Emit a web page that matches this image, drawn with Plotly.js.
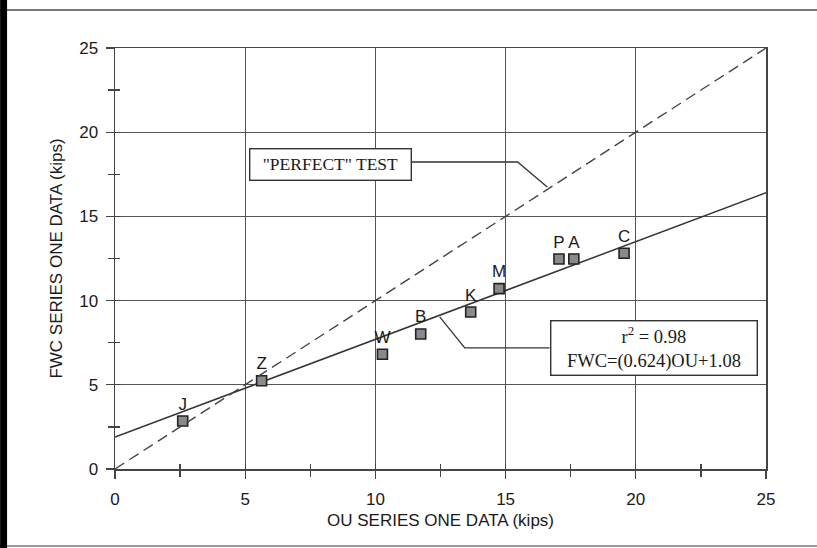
<!DOCTYPE html>
<html>
<head>
<meta charset="utf-8">
<script src="https://cdn.plot.ly/plotly-3.0.1.min.js"></script>
<style>html,body{margin:0;padding:0;background:#fff;}#chart{width:817px;height:548px;}</style>
</head>
<body>
<div id="chart"></div>
<script>
// Specimen labels and measured capacities (kips)
const specimens = ["J", "Z", "W", "B", "K", "M", "P", "A", "C"];
const ouData = [2.6, 5.63, 10.27, 11.74, 13.66, 14.75, 17.05, 17.62, 19.55];
const fwcData = [2.85, 5.24, 6.81, 8.02, 9.32, 10.71, 12.47, 12.47, 12.81];
// Regression line as drawn, and the "perfect" 1:1 line
const fitX = [0, 25];
const fitY = [1.9, 16.4];
const perfectX = [0, 25];
const perfectY = [0, 25];
const xTickVals = [0, 5, 10, 15, 20, 25];
const yTickVals = [0, 5, 10, 15, 20, 25];

const sans = "Liberation Sans, Arial, sans-serif";
const serif = "Liberation Serif, Times New Roman, serif";

const traces = [
  {x: perfectX, y: perfectY, mode: "lines", xaxis: "x2", yaxis: "y2",
   line: {color: "#444", width: 1.4, dash: "11px,6px"}, hoverinfo: "skip"},
  {x: fitX, y: fitY, mode: "lines",
   line: {color: "#333", width: 1.5}, hoverinfo: "skip"},
  {x: ouData, y: fwcData, mode: "markers+text", text: specimens,
   textposition: "top center",
   textfont: {family: sans, size: 17, color: "#1a1a1a"},
   marker: {symbol: "square", size: 10, color: "#8a8a8a", line: {color: "#222", width: 1.6}},
   hoverinfo: "skip"}
];

const axCommon = {
  range: [0, 25], showgrid: true, gridcolor: "#555", gridwidth: 1.2,
  zeroline: false, showline: true, linecolor: "#444", linewidth: 1.5,
  ticks: "outside", ticklen: 8, tickwidth: 1.4, tickcolor: "#444",
  minor: {dtick: 2.5, ticks: "outside", ticklen: 6, tickwidth: 1.4, tickcolor: "#444", showgrid: false},
  tickfont: {family: sans, size: 17, color: "#1a1a1a"}, fixedrange: true
};

const layout = {
  width: 817, height: 548,
  margin: {l: 115, r: 50.5, t: 48, b: 79},
  paper_bgcolor: "#fff", plot_bgcolor: "#fff",
  showlegend: false,
  xaxis: Object.assign({}, axCommon, {
    tickvals: xTickVals, ticktext: xTickVals.map(String), mirror: true,
    ticklabelstandoff: 6,
    title: {text: "OU SERIES ONE DATA (kips)", font: {family: sans, size: 17, color: "#1a1a1a"}, standoff: 6}
  }),
  yaxis: Object.assign({}, axCommon, {
    tickvals: yTickVals, ticktext: yTickVals.map(String), mirror: true,
    ticklabelstandoff: 4,
    title: {text: "FWC SERIES ONE DATA (kips)", font: {family: sans, size: 17, color: "#1a1a1a"}, standoff: 12}
  }),
  xaxis2: {range: [0, 25], overlaying: "x", anchor: "y2", showgrid: false, zeroline: false,
    showticklabels: false, ticks: "inside", ticklen: 6, tickwidth: 1.4, tickcolor: "#444",
    tickvals: xTickVals, minor: {dtick: 2.5, ticks: "inside", ticklen: 5, tickwidth: 1.4, tickcolor: "#444"},
    fixedrange: true},
  yaxis2: {range: [0, 25], overlaying: "y", anchor: "x2", showgrid: false, zeroline: false,
    showticklabels: false, ticks: "inside", ticklen: 6, tickwidth: 1.4, tickcolor: "#444",
    tickvals: yTickVals, minor: {dtick: 2.5, ticks: "inside", ticklen: 5, tickwidth: 1.4, tickcolor: "#444"},
    fixedrange: true},
  shapes: [
    // page frame
    {type: "line", xref: "paper", yref: "paper", x0: -0.1765, x1: 1.1, y0: 1.09, y1: 1.09,
     line: {color: "#777", width: 2}},
    {type: "line", xref: "paper", yref: "paper", x0: -0.1765, x1: 1.1, y0: -0.183, y1: -0.183,
     line: {color: "#999", width: 2}},
    {type: "rect", xref: "paper", yref: "paper", x0: -0.1765, x1: -0.1658, y0: -0.2, y1: 1.12,
     fillcolor: "#000", line: {width: 0}},
    // annotation leader lines
    {type: "path", xref: "x", yref: "y", path: "M 11.4,18.23 L 15.46,18.23 L 16.6,16.75",
     line: {color: "#333", width: 1.3}},
    {type: "path", xref: "x", yref: "y", path: "M 16.69,7.19 L 13.43,7.19 L 12.47,9.03",
     line: {color: "#333", width: 1.3}}
  ],
  annotations: [
    {x: 8.29, y: 18.1, xref: "x", yref: "y", showarrow: false,
     text: "\"PERFECT\" TEST", font: {family: serif, size: 17.5, color: "#1a1a1a"},
     bgcolor: "#fff", bordercolor: "#333", borderwidth: 1.4, borderpad: 5, width: 150},
    {x: 20.7, y: 7.16, xref: "x", yref: "y", showarrow: false,
     text: "r<sup>2</sup> = 0.98<br>FWC=(0.624)OU+1.08", font: {family: serif, size: 18.5, color: "#1a1a1a"},
     bgcolor: "#fff", bordercolor: "#333", borderwidth: 1.4, borderpad: 2, width: 201, align: "center"}
  ]
};

Plotly.newPlot("chart", traces, layout, {displayModeBar: false, staticPlot: true});
</script>
</body>
</html>
